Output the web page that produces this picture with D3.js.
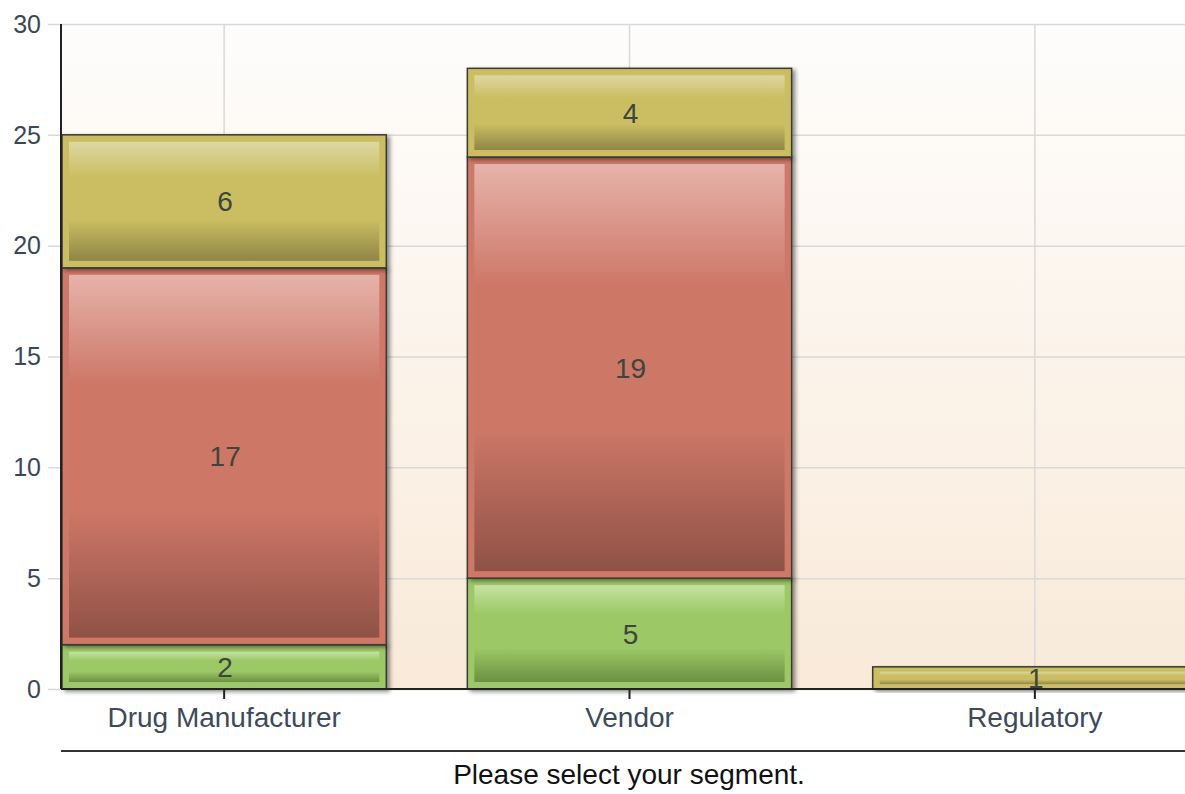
<!DOCTYPE html>
<html>
<head>
<meta charset="utf-8">
<script src="https://cdn.jsdelivr.net/npm/d3@7"></script>
<style>
  body { margin: 0; background: #fff; overflow: hidden; }
  text { font-family: "Liberation Sans", Arial, sans-serif; }
</style>
</head>
<body>
<div id="chart"></div>
<script>
const categories = ["Drug Manufacturer", "Vendor", "Regulatory"];
const seriesNames = ["green", "red", "yellow"];
const greenValues = [2, 5, 0];
const redValues = [17, 19, 0];
const yellowValues = [6, 4, 1];
const yTicks = [0, 5, 10, 15, 20, 25, 30];
const axisTitle = "Please select your segment.";

const width = 1185, height = 794;
const plotLeft = 61, plotTop = 24, plotBottom = 689;

// colours per series: outer, light top, mid, dark bottom
const palette = {
  green:  { outer: "#9dc866", top: "#c6e2a2", mid: "#9cc865", bottom: "#6b9043" },
  red:    { outer: "#d07868", top: "#e6b3aa", mid: "#cd7767", bottom: "#8f5246" },
  yellow: { outer: "#cbbe62", top: "#ddd7a2", mid: "#cbbe62", bottom: "#8f8547" }
};

const rows = categories.map((c, i) => ({
  category: c,
  green: greenValues[i],
  red: redValues[i],
  yellow: yellowValues[i]
}));

const svg = d3.select("#chart")
  .append("svg")
  .attr("width", width)
  .attr("height", height);

const defs = svg.append("defs");

const bg = defs.append("linearGradient")
  .attr("id", "bg").attr("x1", 0).attr("y1", 0).attr("x2", 0).attr("y2", 1);
bg.append("stop").attr("offset", "0%").attr("stop-color", "#fefdfc");
bg.append("stop").attr("offset", "100%").attr("stop-color", "#f9ead9");

seriesNames.forEach(s => {
  const p = palette[s];
  const g = defs.append("linearGradient")
    .attr("id", "grad-" + s).attr("x1", 0).attr("y1", 0).attr("x2", 0).attr("y2", 1);
  g.append("stop").attr("offset", "0%").attr("stop-color", p.top);
  g.append("stop").attr("offset", "30%").attr("stop-color", p.mid);
  g.append("stop").attr("offset", "65%").attr("stop-color", p.mid);
  g.append("stop").attr("offset", "100%").attr("stop-color", p.bottom);
});

const shadow = defs.append("filter").attr("id", "shadow")
  .attr("x", "-5%").attr("y", "-5%").attr("width", "115%").attr("height", "120%");
shadow.append("feDropShadow")
  .attr("dx", 3).attr("dy", 2).attr("stdDeviation", 2)
  .attr("flood-color", "#000").attr("flood-opacity", 0.45);

const x = d3.scaleBand()
  .domain(categories)
  .range([62, 1197])
  .paddingInner(0.2)
  .paddingOuter(0);

const y = d3.scaleLinear()
  .domain([0, 30])
  .range([plotBottom, plotTop]);

// plot background
svg.append("rect")
  .attr("x", plotLeft)
  .attr("y", plotTop)
  .attr("width", width - plotLeft)
  .attr("height", plotBottom - plotTop)
  .attr("fill", "url(#bg)");

// horizontal grid
svg.append("g")
  .selectAll("line")
  .data(yTicks)
  .join("line")
  .attr("x1", 48)
  .attr("x2", width)
  .attr("y1", d => y(d) + 0.5)
  .attr("y2", d => y(d) + 0.5)
  .style("stroke", "#d9d9d9")
  .style("stroke-width", 1.5);

// vertical grid at category centres
svg.append("g")
  .selectAll("line")
  .data(categories)
  .join("line")
  .attr("x1", d => x(d) + x.bandwidth() / 2)
  .attr("x2", d => x(d) + x.bandwidth() / 2)
  .attr("y1", plotTop)
  .attr("y2", plotBottom)
  .style("stroke", "#d9d9d9")
  .style("stroke-width", 1.5);

// y tick labels
svg.append("g")
  .selectAll("text")
  .data(yTicks)
  .join("text")
  .attr("x", 41)
  .attr("y", d => y(d))
  .attr("dy", "0.35em")
  .attr("text-anchor", "end")
  .style("font-size", "25px")
  .style("fill", "#3b4756")
  .text(d => d);

// stacked bars
const stack = d3.stack().keys(seriesNames);
const layers = stack(rows);

const barGroup = svg.append("g");
layers.forEach(layer => {
  const s = layer.key;
  const segs = layer.filter(d => d[1] - d[0] > 0);

  const g = barGroup.append("g");
  g.selectAll("rect.outer")
    .data(segs)
    .join("rect")
    .attr("class", "outer")
    .attr("x", d => x(d.data.category))
    .attr("y", d => y(d[1]))
    .attr("width", x.bandwidth())
    .attr("height", d => y(d[0]) - y(d[1]))
    .attr("fill", palette[s].outer)
    .attr("stroke", "#3a3a30")
    .attr("stroke-width", 1.5)
    .attr("filter", "url(#shadow)");

  g.selectAll("rect.inner")
    .data(segs)
    .join("rect")
    .attr("class", "inner")
    .each(function (d) {
      const h = y(d[0]) - y(d[1]);
      const inset = Math.min(7, h * 0.22);
      d3.select(this)
        .attr("x", x(d.data.category) + 7)
        .attr("y", y(d[1]) + inset)
        .attr("width", x.bandwidth() - 14)
        .attr("height", h - 2 * inset);
    })
    .attr("fill", "url(#grad-" + s + ")");
});

// value labels
layers.forEach(layer => {
  barGroup.append("g")
    .selectAll("text")
    .data(layer.filter(d => d[1] - d[0] > 0))
    .join("text")
    .attr("x", d => x(d.data.category) + x.bandwidth() / 2 + 1)
    .attr("y", d => y((d[0] + d[1]) / 2))
    .attr("dy", "0.36em")
    .attr("text-anchor", "middle")
    .style("font-size", "28px")
    .style("fill", "#3c463c")
    .text(d => d[1] - d[0]);
});

// y axis line
svg.append("line")
  .attr("x1", plotLeft).attr("x2", plotLeft)
  .attr("y1", plotTop).attr("y2", plotBottom)
  .style("stroke", "#222")
  .style("stroke-width", 2);

// x axis
const xAxis = svg.append("g")
  .attr("transform", `translate(0, ${plotBottom})`)
  .call(d3.axisBottom(x).tickSize(10).tickSizeOuter(0).tickPadding(8));
xAxis.select(".domain")
  .attr("d", `M${plotLeft},0H${width}`)
  .style("stroke", "#222")
  .style("stroke-width", 2);
xAxis.selectAll(".tick line").style("stroke", "#222").style("stroke-width", 2);
xAxis.selectAll(".tick text")
  .style("font-size", "28px")
  .style("font-family", "'Liberation Sans', Arial, sans-serif")
  .style("fill", "#3d4a5a");

// title separator and axis title
svg.append("line")
  .attr("x1", plotLeft).attr("x2", width)
  .attr("y1", 751).attr("y2", 751)
  .style("stroke", "#333")
  .style("stroke-width", 2);

svg.append("text")
  .attr("x", (plotLeft + width) / 2 + 6)
  .attr("y", 784)
  .attr("text-anchor", "middle")
  .style("font-size", "28px")
  .style("fill", "#111")
  .text(axisTitle);
</script>
</body>
</html>
